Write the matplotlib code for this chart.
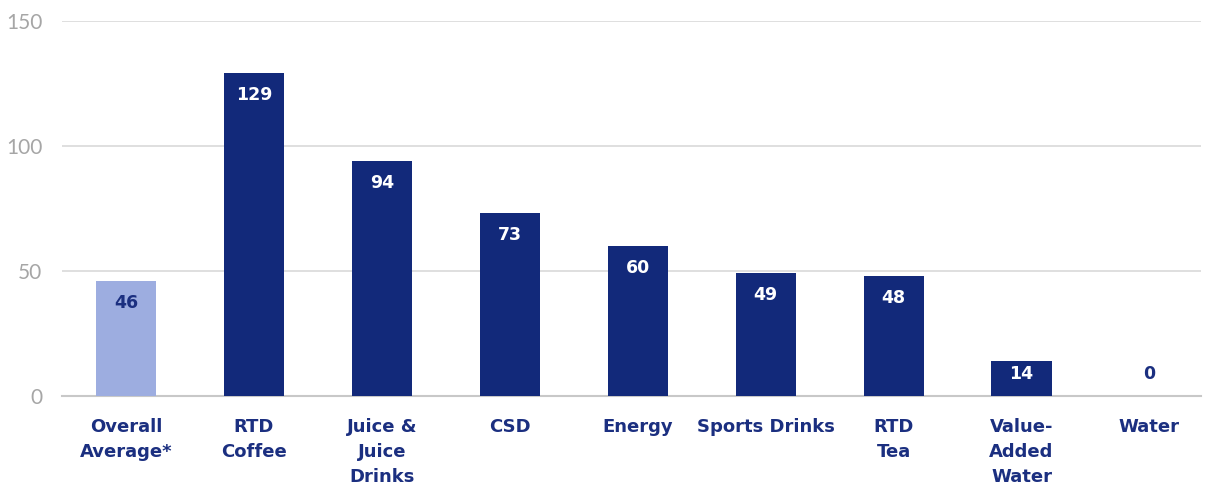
#!/usr/bin/env python3

from matplotlib import pyplot as plt
import numpy as np

categories = ['Overall\nAverage*', 'RTD\nCoffee', 'Juice &\nJuice\nDrinks', 'CSD', 'Energy',
              'Sports Drinks', 'RTD\nTea', 'Value-\nAdded\nWater', 'Water']
values = [46, 129, 94, 73, 60, 49, 48, 14, 0]
y_ticks = [0, 50, 100, 150]

NAVY = '#12297A'
LIGHT = '#9DADE0'
TEXT = '#1B2F80'
BOLD = ['DejaVu Sans']

def main():
    '''Draw the bar chart'''
    plt.rcParams['font.family'] = ['Lato', 'DejaVu Sans']
    fig = plt.figure(figsize=(12.14, 4.84), dpi=100)
    ax = fig.add_axes([0.051, 0.182, 0.938, 0.775])

    x = np.arange(len(values))
    colors = [LIGHT] + [NAVY] * (len(values) - 1)
    ax.bar(x, values, width=0.47, color=colors, zorder=3)

    for i, v in enumerate(values):
        col = TEXT if i == 0 or v == 0 else 'white'
        ax.text(i, max(v - 8.8, 8.8), str(v), ha='center', va='center', family=BOLD,
                color=col, fontsize=12.5, fontweight='bold', zorder=4)

    ax.set_xlim(-0.5, 8.4)
    ax.set_ylim(0, 150)
    ax.set_yticks(y_ticks)
    ax.set_yticklabels([str(t) for t in y_ticks], color='#A6A6A6', fontsize=15)
    ax.set_xticks(x)
    ax.set_xticklabels(categories, color=TEXT, fontsize=13, fontweight='bold',
                       family=BOLD, linespacing=1.5, va='top')
    ax.tick_params(axis='both', length=0)
    ax.tick_params(axis='x', pad=16)
    ax.tick_params(axis='y', pad=14)
    ax.grid(axis='y', color='#D9D9D9', linewidth=1.2, zorder=0)
    for side in ['top', 'right', 'left']:
        ax.spines[side].set_visible(False)
    ax.spines['bottom'].set_color('#C8C8C8')
    ax.spines['bottom'].set_linewidth(1.5)

    fig.savefig('out.png', dpi=100)

if __name__ == '__main__':
    main()
